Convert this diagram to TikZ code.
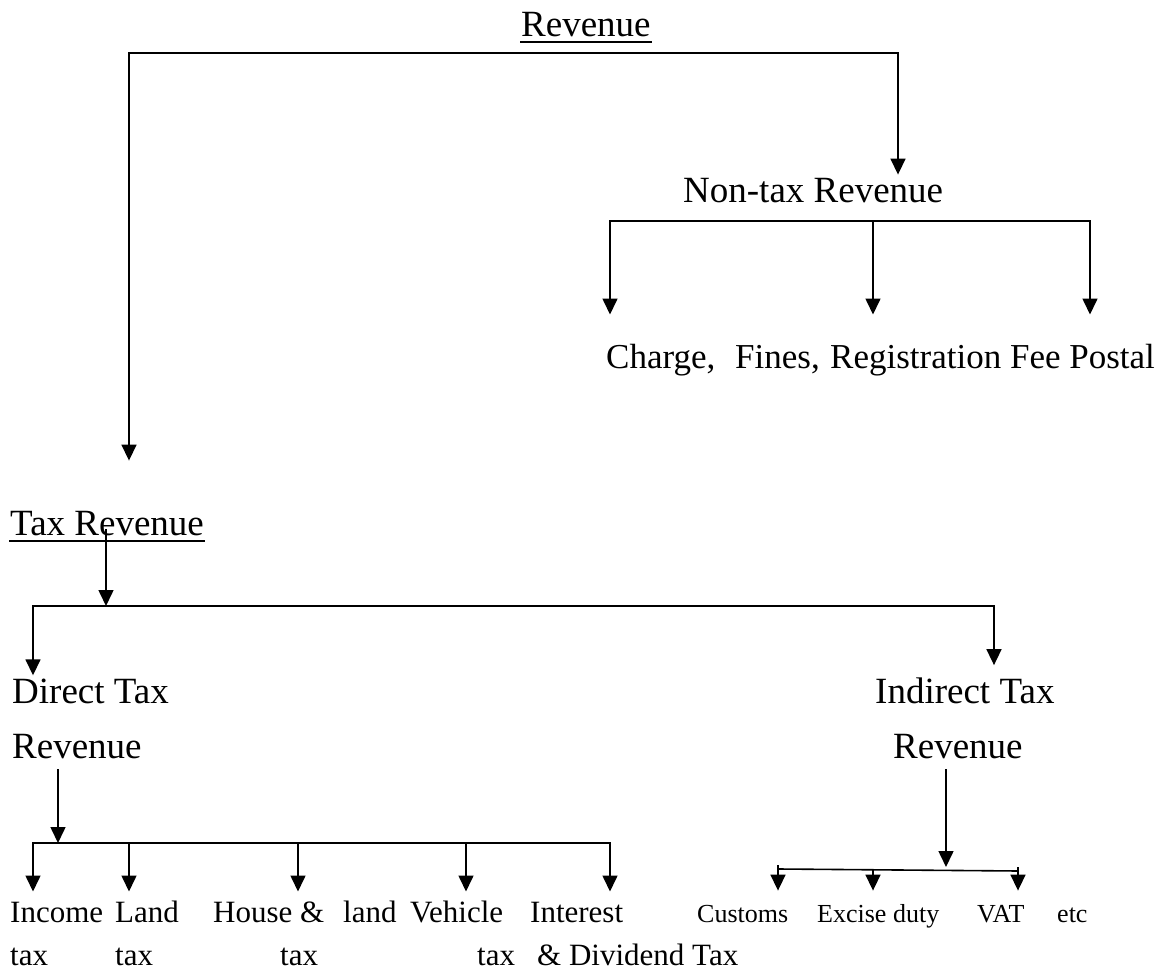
\documentclass[tikz,border=0pt]{standalone}
\usepackage{fontspec}
\setmainfont{Liberation Serif}
\usetikzlibrary{arrows.meta}

\newcommand{\txtbig}{\fontsize{37}{44}\selectfont}
\newcommand{\txtrow}{\fontsize{35}{42}\selectfont}
\newcommand{\txtmid}{\fontsize{31}{37}\selectfont}
\newcommand{\txtsmall}{\fontsize{26}{31}\selectfont}

\tikzset{
  conn/.style={line width=1.6pt, line cap=rect},
  arr/.style={conn, -{Triangle[width=15pt,length=16pt]}},
}

\begin{document}
\begin{tikzpicture}[x=1pt, y=-1pt, every node/.style={inner sep=0pt, anchor=base west}]
  \useasboundingbox (0,0) rectangle (1160,973);

  % headings
  \node (rev) at (521,37) {\txtbig Revenue};
  \node (nontax) at (683,203) {\txtbig Non-tax Revenue};
  \node (taxrev) at (10,535) {\txtbig Tax Revenue};
  \node (direct) at (12,703) {\txtbig Direct Tax};
  \node (directb) at (12,758) {\txtbig Revenue};
  \node (indirect) at (875,703) {\txtbig Indirect Tax};
  \node (indirectb) at (893,758) {\txtbig Revenue};
  \draw[conn] ([yshift=-5pt]rev.base west) -- ([yshift=-5pt]rev.base east);
  \draw[conn] ([yshift=-6pt]taxrev.base west) -- ([yshift=-6pt]taxrev.base east);

  % non-tax items
  \node (charge) at (606,369) {\txtrow Charge,};
  \node (fines) at (735,369) {\txtrow Fines,};
  \node (regfee) at (830,369) {\txtrow Registration Fee Postal};

  % direct tax items
  \node (income) at (10,922) {\txtmid Income};
  \node (land) at (115,922) {\txtmid Land};
  \node (house) at (213,922) {\txtmid House \&};
  \node (hland) at (343,922) {\txtmid land};
  \node (vehicle) at (410,922) {\txtmid Vehicle};
  \node (interest) at (530,922) {\txtmid Interest};
  \node (incometax) at (10,965) {\txtmid tax};
  \node (landtax) at (115,965) {\txtmid tax};
  \node (housetax) at (280,965) {\txtmid tax};
  \node (vehtax) at (477,965) {\txtmid tax};
  \node (divtax) at (537,965) {\txtmid \& Dividend Tax};

  % indirect tax items
  \node (customs) at (697,922) {\txtsmall Customs};
  \node (excise) at (817,922) {\txtsmall Excise duty};
  \node (vat) at (977,922) {\txtsmall VAT};
  \node (etc) at (1057,922) {\txtsmall etc};

  % revenue split
  \coordinate (topL) at (129,53);
  \coordinate (topR) at (898,53);
  \draw[arr] (topR) -- (topL) -- ([yshift=50pt]topL |- taxrev.north);
  \draw[arr] (topR) -- ([yshift=4pt]topR |- nontax.north);

  % non-tax split
  \coordinate (ntL) at (610,221);
  \coordinate (ntM) at (873,221);
  \coordinate (ntR) at (1090,221);
  \draw[conn] (ntL) -- (ntR);
  \foreach \c in {ntL,ntM,ntR}
    \draw[arr] (\c) -- ([yshift=30pt]\c |- charge.north);

  % tax split
  \coordinate (tsplit) at (106,606);
  \coordinate (tsL) at (33,606);
  \coordinate (tsR) at (994,606);
  \draw[arr] ([yshift=5pt]taxrev.base -| tsplit) -- (tsplit);
  \draw[arr] (tsR) -- (tsL) -- ([yshift=3pt]tsL |- direct.north);
  \draw[arr] (tsR) -- ([yshift=12pt]tsR |- indirect.north);

  % direct split
  \coordinate (dsplit) at (58,843);
  \draw[arr] ([yshift=-12pt]directb.base -| dsplit) -- (dsplit);
  \draw[conn] (33,843) -- (610,843);
  \foreach \x [count=\i] in {33,129,298,466,610} {
    \coordinate (d\i) at (\x,843);
    \draw[arr] (d\i) -- ([yshift=10pt]d\i |- income.north);
  }

  % indirect split
  \coordinate (isplit) at (946,867);
  \coordinate (iL) at (778,869);
  \coordinate (iM) at (873,870);
  \coordinate (iR) at (1018,871);
  \draw[arr] ([yshift=-12pt]indirectb.base -| isplit) -- (isplit);
  \draw[conn] (iL) -- (iR);
  \draw[arr] ([yshift=3pt]iL) -- ([yshift=14pt]iL |- customs.north);
  \draw[arr] (iM) -- ([yshift=14pt]iM |- customs.north);
  \draw[arr] ([yshift=3pt]iR) -- ([yshift=14pt]iR |- customs.north);
\end{tikzpicture}
\end{document}
